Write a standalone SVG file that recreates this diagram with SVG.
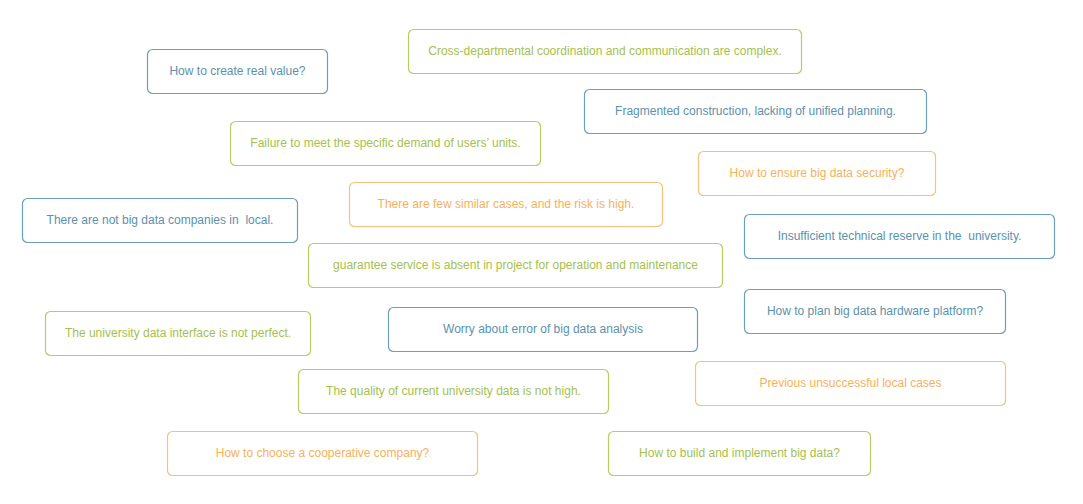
<svg xmlns="http://www.w3.org/2000/svg" width="1083" height="504" viewBox="0 0 1083 504">
<style>
rect{fill:#fff;stroke-width:1.2}
text{font-family:"Liberation Sans",Arial,sans-serif;font-size:12px;text-anchor:middle;white-space:pre}
.b rect{stroke:#6b9fbc}.b text{fill:#5a91ae}
.g rect{stroke:#b6cd62}.g text{fill:#a5c14c}
.o rect{stroke:#f8c07e}.o text{fill:#f6b15b}
</style>
<rect x="0" y="0" width="1083" height="504" fill="#fff" stroke="none"/>
<g id="n1" class="b"><rect x="147.5" y="49.5" width="180" height="44" rx="5"/><text x="237.5" y="75">How to create real value?</text></g>
<g id="n2" class="g"><rect x="408.5" y="29.5" width="393" height="44" rx="5"/><text x="605" y="55">Cross-departmental coordination and communication are complex.</text></g>
<g id="n3" class="b"><rect x="584.5" y="89.5" width="342" height="44" rx="5"/><text x="755.5" y="115">Fragmented construction, lacking of unified planning.</text></g>
<g id="n4" class="g"><rect x="230.5" y="121.5" width="310" height="44" rx="5"/><text x="385.5" y="147">Failure to meet the specific demand of users’ units.</text></g>
<g id="n5" class="o"><rect x="698.5" y="151.5" width="237" height="44" rx="5"/><text x="817" y="177">How to ensure big data security?</text></g>
<g id="n6" class="o"><rect x="349.5" y="182.5" width="313" height="44" rx="5"/><text x="506" y="208">There are few similar cases, and the risk is high.</text></g>
<g id="n7" class="b"><rect x="22.5" y="198.5" width="275" height="44" rx="5"/><text x="160" y="224">There are not big data companies in  local.</text></g>
<g id="n8" class="b"><rect x="744.5" y="214.5" width="310" height="44" rx="5"/><text x="899.5" y="240">Insufficient technical reserve in the  university.</text></g>
<g id="n9" class="g"><rect x="308.5" y="243.5" width="414" height="44" rx="5"/><text x="515.5" y="269">guarantee service is absent in project for operation and maintenance</text></g>
<g id="n10" class="b"><rect x="744.5" y="289.5" width="261" height="44" rx="5"/><text x="875" y="315">How to plan big data hardware platform?</text></g>
<g id="n11" class="g"><rect x="45.5" y="311.5" width="265" height="44" rx="5"/><text x="178" y="337">The university data interface is not perfect.</text></g>
<g id="n12" class="b"><rect x="388.5" y="307.5" width="309" height="44" rx="5"/><text x="543" y="333">Worry about error of big data analysis</text></g>
<g id="n13" class="g"><rect x="298.5" y="369.5" width="310" height="44" rx="5"/><text x="453.5" y="395">The quality of current university data is not high.</text></g>
<g id="n14" class="o"><rect x="695.5" y="361.5" width="310" height="44" rx="5"/><text x="850.5" y="387">Previous unsuccessful local cases</text></g>
<g id="n15" class="o"><rect x="167.5" y="431.5" width="310" height="44" rx="5"/><text x="322.5" y="457">How to choose a cooperative company?</text></g>
<g id="n16" class="g"><rect x="608.5" y="431.5" width="262" height="44" rx="5"/><text x="739.5" y="457">How to build and implement big data?</text></g>
<g id="connectors"/>
</svg>
